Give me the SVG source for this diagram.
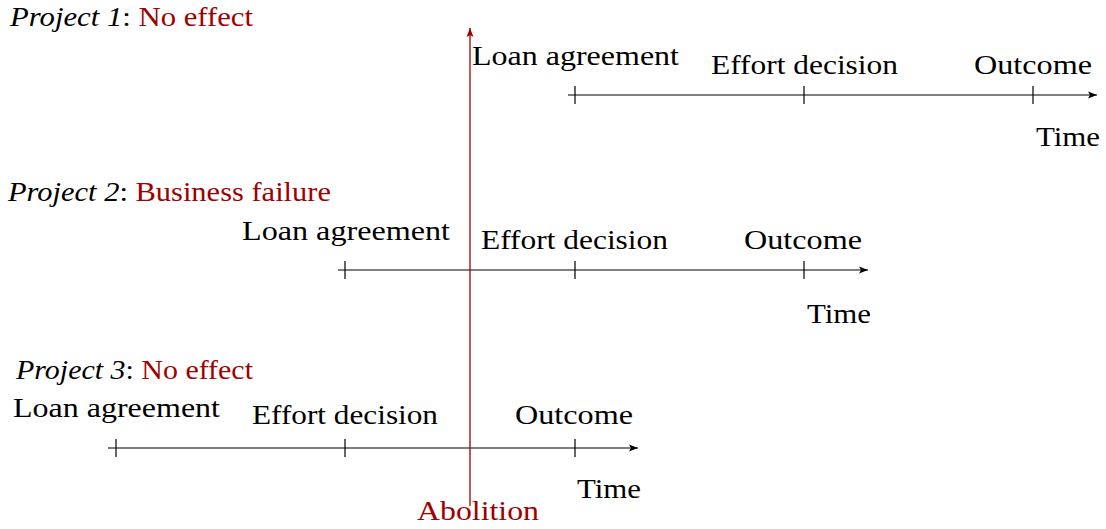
<svg xmlns="http://www.w3.org/2000/svg" width="1106" height="529" viewBox="0 0 1106 529">
<style>
text{font-family:"Liberation Serif","DejaVu Serif",serif;font-size:28px;fill:#000}
.r{fill:#a00000}
.i{font-style:italic}
.ax{stroke:#000;stroke-width:1.2;fill:none}
.tk{stroke:#000;stroke-width:1.2}
</style>
<defs>
<marker id="ah" markerWidth="10" markerHeight="8" refX="9" refY="4" orient="auto" markerUnits="userSpaceOnUse">
<path d="M0,0.5 L9,4 L0,7.5 L2,4 Z" fill="#000"/>
</marker>
<marker id="ahr" markerWidth="10" markerHeight="8" refX="9" refY="4" orient="auto" markerUnits="userSpaceOnUse">
<path d="M0,0.5 L9,4 L0,7.5 L2,4 Z" fill="#a00000"/>
</marker>
</defs>
<g id="connectors">
<line class="ax" x1="568" y1="95" x2="1097" y2="95" marker-end="url(#ah)"/>
<line class="ax" x1="338" y1="270" x2="868" y2="270" marker-end="url(#ah)"/>
<line class="ax" x1="108" y1="448" x2="638" y2="448" marker-end="url(#ah)"/>
<line x1="470" y1="506" x2="470" y2="28" stroke="#a00000" stroke-width="1.3" marker-end="url(#ahr)"/>
</g>
<g id="project1">
<text x="10" y="26" textLength="243" lengthAdjust="spacingAndGlyphs"><tspan class="i">Project 1</tspan>: <tspan class="r">No effect</tspan></text>
<line class="tk" x1="575" y1="86" x2="575" y2="104"/>
<line class="tk" x1="804" y1="86" x2="804" y2="104"/>
<line class="tk" x1="1033" y1="86" x2="1033" y2="104"/>
<text x="472" y="65" textLength="207" lengthAdjust="spacingAndGlyphs">Loan agreement</text>
<text x="711" y="74" textLength="187" lengthAdjust="spacingAndGlyphs">Effort decision</text>
<text x="974" y="74" textLength="118" lengthAdjust="spacingAndGlyphs">Outcome</text>
<text x="1036" y="146" textLength="64" lengthAdjust="spacingAndGlyphs">Time</text>
</g>
<g id="project2">
<text x="8" y="201" textLength="323" lengthAdjust="spacingAndGlyphs"><tspan class="i">Project 2</tspan>: <tspan class="r">Business failure</tspan></text>
<line class="tk" x1="345" y1="261" x2="345" y2="279"/>
<line class="tk" x1="575" y1="261" x2="575" y2="279"/>
<line class="tk" x1="804" y1="261" x2="804" y2="279"/>
<text x="242" y="240" textLength="208" lengthAdjust="spacingAndGlyphs">Loan agreement</text>
<text x="481" y="249" textLength="187" lengthAdjust="spacingAndGlyphs">Effort decision</text>
<text x="744" y="249" textLength="118" lengthAdjust="spacingAndGlyphs">Outcome</text>
<text x="807" y="323" textLength="64" lengthAdjust="spacingAndGlyphs">Time</text>
</g>
<g id="project3">
<text x="16" y="379" textLength="237" lengthAdjust="spacingAndGlyphs"><tspan class="i">Project 3</tspan>: <tspan class="r">No effect</tspan></text>
<line class="tk" x1="116" y1="439" x2="116" y2="457"/>
<line class="tk" x1="345" y1="439" x2="345" y2="457"/>
<line class="tk" x1="575" y1="439" x2="575" y2="457"/>
<text x="13" y="417" textLength="207" lengthAdjust="spacingAndGlyphs">Loan agreement</text>
<text x="252" y="424" textLength="186" lengthAdjust="spacingAndGlyphs">Effort decision</text>
<text x="515" y="424" textLength="118" lengthAdjust="spacingAndGlyphs">Outcome</text>
<text x="577" y="498" textLength="64" lengthAdjust="spacingAndGlyphs">Time</text>
</g>
<g id="abolition">
<text class="r" x="417" y="520" textLength="122" lengthAdjust="spacingAndGlyphs">Abolition</text>
</g>
</svg>
